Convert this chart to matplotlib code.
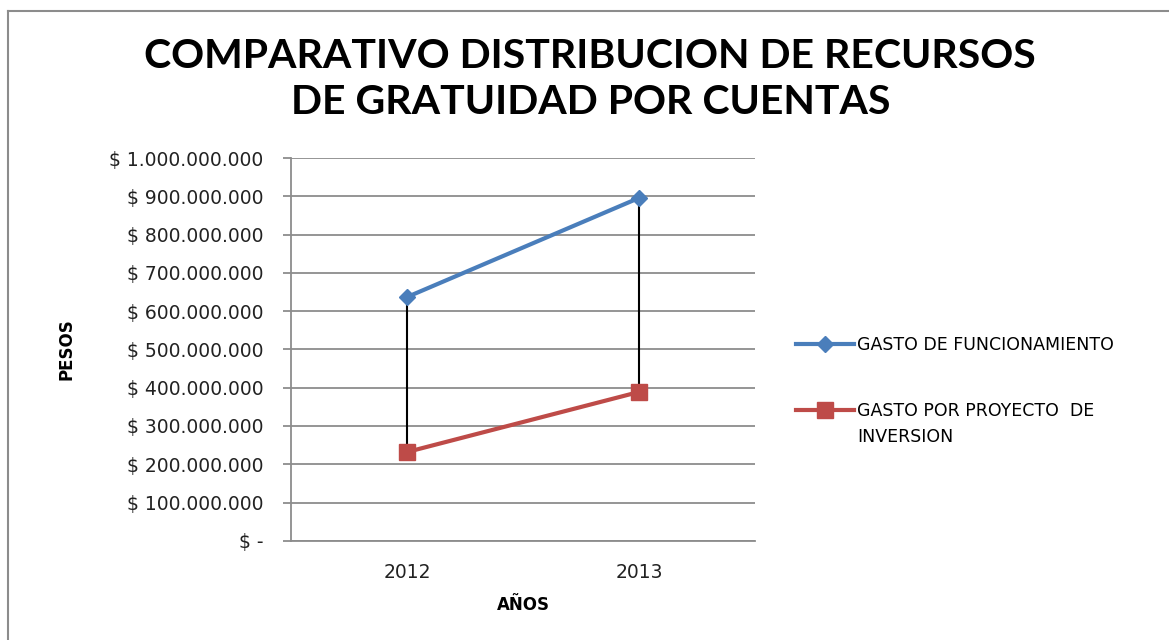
import matplotlib
matplotlib.use('Agg')
from matplotlib import pyplot as plt
from matplotlib.lines import Line2D
from matplotlib.ticker import FuncFormatter

years = ['2012', '2013']
funcionamiento = [637000000, 896000000]
inversion = [232000000, 389000000]
y_ticks = [0, 100000000, 200000000, 300000000, 400000000, 500000000,
           600000000, 700000000, 800000000, 900000000, 1000000000]
title = 'COMPARATIVO DISTRIBUCION DE RECURSOS\nDE GRATUIDAD POR CUENTAS'
label_func = 'GASTO DE FUNCIONAMIENTO'
label_inv = 'GASTO POR PROYECTO  DE'
label_inv_2 = 'INVERSION'


def pesos(v, pos):
    if v == 0:
        return '$ -'
    return '$ ' + '{:,.0f}'.format(v).replace(',', '.')


fig = plt.figure(figsize=(11.69, 6.4), dpi=100)
ax = fig.add_axes([0.249, 0.155, 0.397, 0.598])

x = list(range(len(years)))

# high-low lines between the two series
lows = [min(a, b) for a, b in zip(funcionamiento, inversion)]
highs = [max(a, b) for a, b in zip(funcionamiento, inversion)]
ax.vlines(x, lows, highs, colors='black', linewidth=1.5, zorder=3)

ax.plot(x, funcionamiento, color='#4a7ebb', linewidth=3, marker='D', markersize=8,
        label=label_func, zorder=4)
ax.plot(x, inversion, color='#be4b48', linewidth=3, marker='s', markersize=12,
        label=label_inv, zorder=4)

ax.set_xlim(-0.5, 1.5)
ax.set_ylim(0, 1000000000)
ax.set_yticks(y_ticks)
ax.yaxis.set_major_formatter(FuncFormatter(pesos))
ax.set_xticks(x)
ax.set_xticklabels(years)
ax.yaxis.grid(True, color='#8c8c8c', linewidth=1.3)
ax.set_axisbelow(True)

for s in ['top', 'right']:
    ax.spines[s].set_visible(False)
for s in ['left', 'bottom']:
    ax.spines[s].set_color('#8c8c8c')
    ax.spines[s].set_linewidth(1.3)
ax.tick_params(axis='y', length=6, color='#8c8c8c', width=1.3, labelsize=13.5,
               labelcolor='#222222', pad=14)
ax.tick_params(axis='x', length=0, labelsize=13.5, labelcolor='#222222', pad=16)

ax.set_ylabel('PESOS', fontsize=12, fontweight='bold', labelpad=24)
ax.set_xlabel('AÑOS', fontsize=12, fontweight='bold', labelpad=10)

fig.suptitle(title, x=0.505, y=0.94, fontsize=29.5, fontweight='bold',
             family='Lato', linespacing=1.3)

leg = ax.legend(loc='center left', bbox_to_anchor=(1.055, 0.425), frameon=False,
                fontsize=12.5, handlelength=3.3, handletextpad=0.2, labelspacing=2.75)

# second line of the red entry goes under its first line, handle stays on line one
fig.canvas.draw()
bb = leg.get_texts()[1].get_window_extent()
W, H = fig.bbox.width, fig.bbox.height
fig.text(bb.x0 / W, (bb.y0 - 26) / H, label_inv_2, fontsize=12.5,
         ha='left', va='bottom')

# outer chart border
fig.add_artist(Line2D([8 / 1169, 8 / 1169], [0, 1 - 11 / 640], color='#8c8c8c',
                      linewidth=1.5, transform=fig.transFigure))
fig.add_artist(Line2D([8 / 1169, 1], [1 - 11 / 640, 1 - 11 / 640], color='#8c8c8c',
                      linewidth=1.5, transform=fig.transFigure))

fig.savefig('out.png', dpi=100)
